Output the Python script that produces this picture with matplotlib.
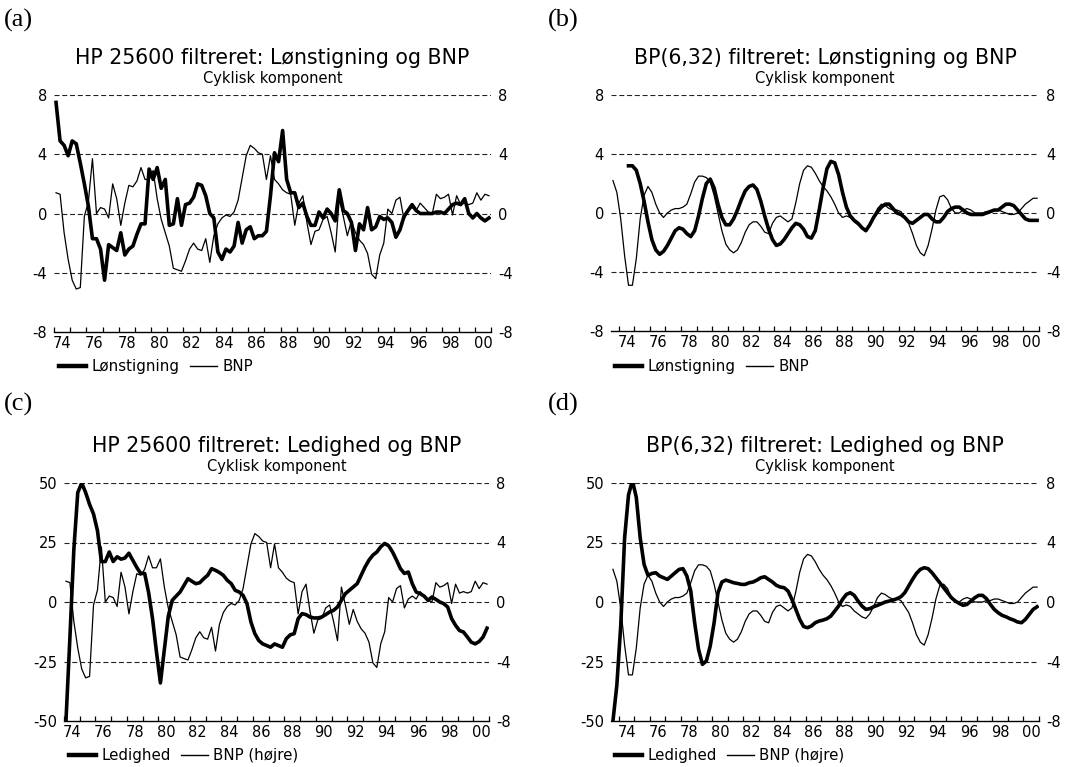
import numpy as np
import matplotlib
matplotlib.use("Agg")
import matplotlib.pyplot as plt
from matplotlib.lines import Line2D
from matplotlib.ticker import FixedLocator

plt.rcParams['font.family'] = ['DejaVu Sans']

# ---------------- data (quarterly) ----------------
year_labels = ['74', '76', '78', '80', '82', '84', '86', '88', '90', '92', '94', '96', '98', '00']

# HP 25600 filtered, 1974Q1-2000Q4
bnp_hp = [1.4, 1.3, -1.3, -3.1, -4.5, -5.1, -5.0, -0.2, 0.8, 3.7,
          0.0, 0.4, 0.3, -0.3, 2.0, 1.0, -0.8, 0.7, 1.9, 1.8,
          2.2, 3.1, 2.3, 2.3, 2.9, 1.0, -0.4, -1.3, -2.2, -3.7,
          -3.8, -3.9, -3.2, -2.4, -2.0, -2.4, -2.5, -1.7, -3.3, -1.5,
          -0.7, -0.3, -0.1, -0.2, 0.1, 0.9, 2.4, 3.9, 4.6, 4.4,
          4.1, 4.0, 2.3, 3.9, 2.3, 2.0, 1.6, 1.4, 1.3, -0.8,
          0.7, 1.2, -0.6, -2.1, -1.2, -1.1, -0.4, -0.2, -1.3, -2.6,
          1.0, -0.2, -1.5, -0.5, -1.3, -1.8, -2.1, -2.7, -4.1, -4.4,
          -2.8, -2.0, 0.3, 0.0, 0.9, 1.1, -0.4, 0.2, 0.4, 0.2,
          0.7, 0.4, 0.1, 0.0, 1.3, 1.0, 1.1, 1.3, -0.1, 1.2,
          0.6, 0.7, 0.6, 0.7, 1.4, 0.9, 1.3, 1.2]

lon_hp = [7.5, 4.9, 4.6, 3.9, 4.9, 4.7, 3.4, 2.0, 0.5, -1.7,
          -1.7, -2.4, -4.5, -2.1, -2.3, -2.5, -1.3, -2.8, -2.4, -2.2,
          -1.4, -0.7, -0.7, 3.0, 2.3, 3.1, 1.7, 2.3, -0.8, -0.7,
          1.0, -0.8, 0.6, 0.7, 1.1, 2.0, 1.9, 1.2, 0.0, -0.3,
          -2.6, -3.1, -2.4, -2.6, -2.2, -0.6, -2.0, -1.1, -0.9, -1.7,
          -1.5, -1.5, -1.2, 1.2, 4.1, 3.5, 5.6, 2.3, 1.4, 1.4,
          0.4, 0.7, -0.2, -0.8, -0.8, 0.1, -0.3, 0.3, 0.0, -0.5,
          1.6, 0.2, 0.0, -0.6, -2.5, -0.7, -1.1, 0.4, -1.1, -0.9,
          -0.2, -0.4, -0.3, -0.6, -1.6, -1.1, -0.2, 0.2, 0.6, 0.2,
          0.0, 0.0, 0.0, 0.0, 0.1, 0.1, 0.0, 0.3, 0.6, 0.7,
          0.6, 1.0, 0.0, -0.3, 0.0, -0.3, -0.5, -0.3]

led_hp = [-50, -15, 22, 46, 50, 46, 41, 37, 30, 17,
          17, 21, 17, 19, 18, 18.5, 20.5, 17.5, 14.5, 12,
          12, 4, -7, -21, -34, -20, -6, 0.7, 2.5, 4.2,
          7, 9.8, 8.7, 7.7, 8.1, 9.8, 11.2, 14, 13.3, 12.4,
          11.2, 9.1, 7.7, 4.9, 4.2, 2.8, -0.7, -8.4, -13.3, -16.2,
          -17.6, -18.3, -19, -17.6, -18.3, -19, -15.4, -13.8, -13.3, -7,
          -4.9, -5.3, -6.3, -6.7, -6.7, -6.3, -5.3, -4.2, -3.5, -2.1,
          0.7, 3.5, 4.9, 6.3, 7.7, 11.2, 14.7, 17.6, 19.7, 21,
          23.2, 24.6, 23.6, 21, 17.6, 14, 12, 12.6, 7.7, 4.2,
          3.5, 2.5, 0.7, 2.1, 1.1, 0, -0.7, -2.1, -7, -9.8,
          -12, -12.6, -14.7, -16.9, -17.6, -16.6, -14.7, -11]

# BP(6,32) filtered, 1973Q3-2000Q4
bnp_bp = [2.2, 1.4, -0.4, -2.9, -4.9, -4.9, -3.1, -0.4, 1.2, 1.8,
          1.4, 0.6, 0.0, -0.3, 0.0, 0.2, 0.3, 0.3, 0.4, 0.6,
          1.3, 2.1, 2.5, 2.5, 2.4, 2.1, 1.2, 0.0, -1.2, -2.1,
          -2.5, -2.7, -2.5, -2.0, -1.3, -0.8, -0.6, -0.6, -0.9, -1.3,
          -1.4, -0.7, -0.3, -0.2, -0.4, -0.6, -0.4, 0.7, 2.0, 2.9,
          3.2, 3.1, 2.7, 2.2, 1.8, 1.5, 1.1, 0.6, 0.0, -0.3,
          -0.2, -0.3, -0.6, -0.8, -1.0, -1.1, -0.8, -0.3, 0.3,
          0.6, 0.5, 0.3, 0.2, 0.2, 0.1, -0.3, -0.7, -1.4, -2.2,
          -2.7, -2.9, -2.2, -1.1, 0.2, 1.1, 1.2, 0.9, 0.3, 0.0,
          0.0, 0.2, 0.3, 0.2, 0.0, 0.0, 0.0, 0.1, 0.1, 0.2,
          0.2, 0.1, 0.0, -0.1, -0.1, 0.0, 0.3, 0.6, 0.8, 1.0, 1.0]

lon_bp = [np.nan, np.nan, np.nan, np.nan, 3.2, 3.2, 2.9, 2.0, 0.8, -0.6,
          -1.8, -2.5, -2.8, -2.6, -2.2, -1.7, -1.2, -1.0, -1.1, -1.4,
          -1.6, -1.2, -0.2, 1.0, 2.0, 2.3, 1.7, 0.6, -0.3, -0.8,
          -0.8, -0.4, 0.2, 0.9, 1.5, 1.8, 1.9, 1.6, 0.8, -0.2,
          -1.1, -1.8, -2.2, -2.1, -1.8, -1.4, -1.0, -0.7, -0.8, -1.1,
          -1.6, -1.7, -1.2, 0.2, 1.7, 3.0, 3.5, 3.4, 2.6, 1.4,
          0.4, -0.2, -0.5, -0.7, -1.0, -1.2, -0.8, -0.3, 0.1,
          0.4, 0.6, 0.6, 0.3, 0.0, -0.1, -0.3, -0.6, -0.7, -0.5,
          -0.3, -0.1, -0.1, -0.4, -0.6, -0.6, -0.3, 0.1, 0.3, 0.4,
          0.4, 0.2, 0.0, -0.1, -0.1, -0.1, -0.1, 0.0, 0.1, 0.2,
          0.2, 0.4, 0.6, 0.6, 0.5, 0.2, -0.1, -0.4, -0.5, -0.5, -0.5]

led_bp = [-50, -35, -10, 27, 45, 51, 44, 27, 15.8, 11.2,
          12, 12.3, 10.9, 10.2, 9.5, 10.9, 12.3, 13.7, 14, 10.9,
          4.6, -8.7, -19.9, -26.2, -24.8, -18.5, -8.7, 3.9, 8.4, 9.2,
          8.7, 8.1, 7.8, 7.4, 7.4, 8.1, 8.4, 9.2, 10.2, 10.6,
          9.5, 8.4, 7, 6.3, 6.0, 4.6, 1.1, -3.1, -7.3, -10.3,
          -10.8, -10.1, -8.7, -8, -7.6, -7, -5.9, -3.8, -1.7, 1.1,
          3.2, 3.9, 2.8, 0.4, -1.7, -3.1, -2.8, -2.0, -1.4, -0.7,
          0, 0.4, 0.8, 1.4, 2.2, 3.9, 6.7, 9.5, 12, 13.7,
          14.4, 14, 12.3, 10.2, 8.1, 6.0, 3.9, 1.8, 0.4, -0.6,
          -1.4, -1.0, 0.4, 1.8, 2.8, 2.8, 1.4, -1.0, -3.1, -4.5,
          -5.6, -6.2, -7, -7.6, -8.4, -8.7, -7.3, -5.2, -3.1, -2.0]

# quarter mid-points
t_hp = 1974.125 + 0.25 * np.arange(len(bnp_hp))
t_bp = 1973.625 + 0.25 * np.arange(len(bnp_bp))

# ---------------- figure ----------------
W, H = 1076, 767
fig = plt.figure(figsize=(W / 100, H / 100), dpi=100)
fig.patch.set_facecolor('white')

GRID = dict(color='#222222', lw=0.8, ls=(0, (4.5, 2.5)), zorder=1)
THICK = dict(color='black', lw=2.6, solid_joinstyle='round', zorder=4)
THIN = dict(color='black', lw=0.9, zorder=3)
TICKFS = 10.5


def make_axes(l, t, r, b):
    return fig.add_axes([l / W, 1 - b / H, (r - l) / W, (b - t) / H])


def style(ax, xlim, lticks, rticks):
    ax.set_xlim(*xlim)
    ax.set_ylim(lticks[0], lticks[-1])
    for s in ['top', 'left', 'right']:
        ax.spines[s].set_visible(False)
    ax.spines['bottom'].set_linewidth(1.0)
    ax.spines['bottom'].set_zorder(5)
    for v in lticks[1:]:
        ax.axhline(v, **GRID)
    ax.set_yticks(lticks)
    ax.set_yticklabels([str(v) for v in lticks], fontsize=TICKFS)
    ax.tick_params(axis='y', length=0, pad=5)
    # x ticks: labels at mid-year, marks at year boundaries
    major = [1974.5 + 2 * k for k in range(len(year_labels))]
    ax.xaxis.set_major_locator(FixedLocator(major))
    ax.set_xticklabels(year_labels, fontsize=TICKFS)
    yrs = np.arange(np.ceil(xlim[0]), np.floor(xlim[1]) + 1)
    ax.xaxis.set_minor_locator(FixedLocator(list(yrs)))
    ax.tick_params(axis='x', which='major', length=0, pad=3)
    ax.tick_params(axis='x', which='minor', length=3.5, width=0.9, direction='in')
    ax.set_facecolor('none')
    ax2 = ax.twinx()
    ax2.set_ylim(rticks[0], rticks[-1])
    ax2.set_yticks(rticks)
    ax2.set_yticklabels([str(v) for v in rticks], fontsize=TICKFS)
    ax2.tick_params(axis='y', length=0, pad=5)
    for s in ['top', 'left', 'right', 'bottom']:
        ax2.spines[s].set_visible(False)
    return ax2


def titles(ax_left, ax_right, y_title, main):
    cx = (ax_left + ax_right) / 2 / W
    fig.text(cx, 1 - y_title / H, main, ha='center', va='center', fontsize=14.8)
    fig.text(cx, 1 - (y_title + 20) / H, 'Cyklisk komponent', ha='center',
             va='center', fontsize=10.5)


def legend(x, y, lab1, lab2):
    h = [Line2D([], [], color='black', lw=3.2), Line2D([], [], color='black', lw=1.0)]
    fig.legend(h, [lab1, lab2], loc='upper left', bbox_to_anchor=(x / W, 1 - y / H),
               ncol=2, frameon=False, fontsize=10.8, handlelength=1.8,
               handletextpad=0.35, columnspacing=0.7, borderaxespad=0, borderpad=0)


lr8 = [-8, -4, 0, 4, 8]
l50 = [-50, -25, 0, 25, 50]

# (a)
axa = make_axes(54, 95, 491, 332)
style(axa, (1974.0, 2001.0), lr8, lr8)
axa.plot(t_hp, bnp_hp, **THIN)
axa.plot(t_hp, lon_hp, **THICK)
titles(54, 491, 58, 'HP 25600 filtreret: Lønstigning og BNP')
legend(59, 359, 'Lønstigning', 'BNP')

# (b)
axb = make_axes(611, 95, 1039, 331)
style(axb, (1973.5, 2001.0), lr8, lr8)
axb.plot(t_bp, bnp_bp, **THIN)
axb.plot(t_bp, lon_bp, **THICK)
titles(611, 1039, 58, 'BP(6,32) filtreret: Lønstigning og BNP')
legend(615, 359, 'Lønstigning', 'BNP')

# (c)
axc = make_axes(64, 483, 489, 721)
axc2 = style(axc, (1974.0, 2001.0), l50, lr8)
axc2.plot(t_hp, bnp_hp, **THIN)
axc.plot(t_hp, led_hp, **THICK)
axc.set_zorder(axc2.get_zorder() + 1)
titles(64, 489, 446, 'HP 25600 filtreret: Ledighed og BNP')
legend(69, 748, 'Ledighed', 'BNP (højre)')

# (d)
axd = make_axes(611, 483, 1039, 721)
axd2 = style(axd, (1973.5, 2001.0), l50, lr8)
axd2.plot(t_bp, bnp_bp, **THIN)
axd.plot(t_bp, led_bp, **THICK)
axd.set_zorder(axd2.get_zorder() + 1)
titles(611, 1039, 446, 'BP(6,32) filtreret: Ledighed og BNP')
legend(615, 748, 'Ledighed', 'BNP (højre)')

# panel letters
for lab, x, y in [('(a)', 4, 20), ('(b)', 548, 20), ('(c)', 4, 404), ('(d)', 548, 404)]:
    fig.text(x / W, 1 - y / H, lab, ha='left', va='center', fontsize=19,
             family=['Liberation Serif', 'DejaVu Serif'])

fig.savefig('out.png', dpi=100, facecolor='white')
